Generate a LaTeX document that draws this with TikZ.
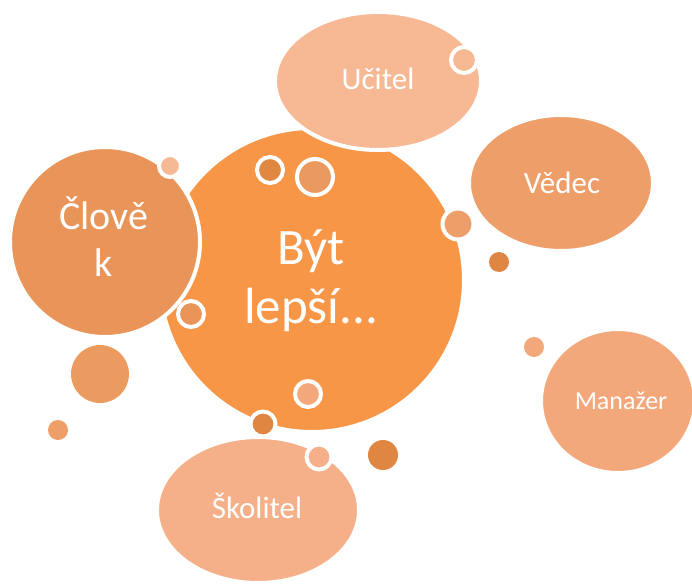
\documentclass[tikz,border=0pt]{standalone}
\usepackage{fontspec}
\setmainfont{Carlito}
\usepackage{tikz}

\definecolor{mainorange}{HTML}{F79646}
\definecolor{clovekfill}{HTML}{E9955A}
\definecolor{ucitelfill}{HTML}{F7B894}
\definecolor{vedecfill}{HTML}{EE9E69}
\definecolor{skolfill}{HTML}{F5B089}
\definecolor{manfill}{HTML}{F3A87B}
\definecolor{darkdot}{HTML}{DE8642}
\definecolor{middot}{HTML}{EA9A5E}

\begin{document}
\begin{tikzpicture}[x=1pt,y=-1pt,
  bubble/.style={draw=white,line width=4pt},
  ring/.style={draw=white,line width=4pt},
  bubbletext/.style={text=white,align=center,inner sep=0pt}]
\useasboundingbox (0,0) rectangle (692,583);
\draw[bubble,fill=mainorange] (312,280) circle (152);
\draw[bubble,fill=ucitelfill] (378,81) ellipse (103 and 69);
\draw[bubble,fill=clovekfill] (105,242) circle (95);
\draw[bubble,fill=vedecfill] (561,183) ellipse (92 and 68);
\draw[bubble,fill=skolfill] (258,510) ellipse (101 and 73);
\draw[bubble,fill=manfill] (618,401) ellipse (77 and 72);
\draw[ring,fill=darkdot!90!mainorange] (270,170) circle (13);
\draw[ring,fill=middot] (315,177) circle (18);
\draw[ring,fill=ucitelfill] (170,166) circle (11);
\draw[ring,fill=clovekfill] (191,314) circle (13);
\draw[ring,fill=manfill] (308,394) circle (13);
\draw[ring,fill=darkdot] (263,424) circle (12.5);
\draw[ring,fill=ucitelfill] (464,60) circle (13);
\draw[ring,fill=vedecfill] (458,224) circle (15.5);
\draw[ring,fill=skolfill] (319,457) circle (12.5);
\fill[darkdot] (499,262) circle (10);
\fill[middot!80!vedecfill] (100,374) circle (29);
\fill[vedecfill] (58,430) circle (10);
\fill[darkdot] (383,455) circle (15);
\fill[manfill] (534,347) circle (10);
\node[bubbletext,font=\fontsize{51}{59}\selectfont] (byt) at (311,281) {Být\\lepší...};
\node[bubbletext,font=\fontsize{40}{47}\selectfont] (clovek) at (104,237) {Člově\\k};
\node[bubbletext,font=\fontsize{31}{37}\selectfont,anchor=base] (ucitel) at (378,89) {Učitel};
\node[bubbletext,font=\fontsize{31}{37}\selectfont,anchor=base] (vedec) at (562,193) {Vědec};
\node[bubbletext,font=\fontsize{31}{37}\selectfont,anchor=base] (skolitel) at (257,518) {Školitel};
\node[bubbletext,font=\fontsize{26}{31}\selectfont,anchor=base] (manazer) at (621,409) {Manažer};
\end{tikzpicture}
\end{document}
